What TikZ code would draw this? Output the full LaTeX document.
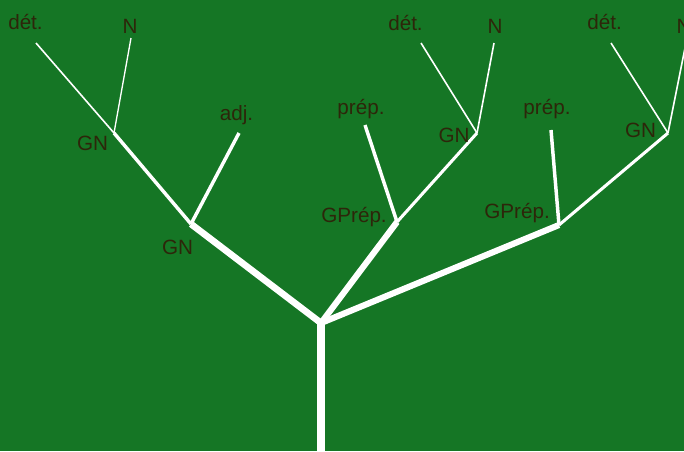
\documentclass[tikz,border=0pt]{standalone}
\usepackage{fontspec}
\setmainfont{Liberation Sans}
\definecolor{leaf}{RGB}{21,118,37}
\definecolor{ink}{RGB}{45,38,10}
\begin{document}
\begin{tikzpicture}[x=0.75pt,y=-0.75pt,
  lbl/.style={text=ink, font=\fontsize{15.5}{18}\selectfont, inner sep=0pt, anchor=base},
  br/.style={draw=white, line width=#1}]
\fill[leaf] (0,0) rectangle (684,451);
\useasboundingbox (0,0) rectangle (684,451);

% junctions and branch tips
\coordinate (base) at (321,451);
\coordinate (root) at (321,323);
\coordinate (gnA) at (191,224);
\coordinate (gnB) at (114,133);
\coordinate (adjT) at (239,133);
\coordinate (detA) at (36,43);
\coordinate (nA) at (131,38);
\coordinate (gpA) at (397,222);
\coordinate (prepA) at (365,125);
\coordinate (gnC) at (477,133);
\coordinate (detB) at (421,43);
\coordinate (nB) at (494,43);
\coordinate (gpB) at (559,225);
\coordinate (prepB) at (551,130);
\coordinate (gnD) at (668,133);
\coordinate (detC) at (611,43);
\coordinate (nC) at (686,43);

% trunk and main limbs
\draw[br=6pt] (base) -- (root);
\draw[br=5pt] (root) -- (gnA);
\draw[br=4.6pt] (root) -- (gpA);
\draw[br=4.6pt] (root) -- (gpB);

% secondary branches
\draw[br=2.6pt] (gnA) -- (gnB);
\draw[br=2.6pt] (gnA) -- (adjT);
\draw[br=2.6pt] (gpA) -- (prepA);
\draw[br=2.3pt] (gpA) -- (gnC);
\draw[br=2.6pt] (gpB) -- (prepB);
\draw[br=2.3pt] (gpB) -- (gnD);

% twigs
\draw[br=1.2pt] (gnB) -- (detA);
\draw[br=1pt] (gnB) -- (nA);
\draw[br=1.2pt] (gnC) -- (detB);
\draw[br=1.2pt] (gnC) -- (nB);
\draw[br=1.2pt] (gnD) -- (detC);
\draw[br=1.2pt] (gnD) -- (nC);

% labels
\node[lbl] (lDetA) at (25.5,29) {dét.};
\node[lbl] (lNA) at (130,33) {N};
\node[lbl] (lGnB) at (92.5,150) {GN};
\node[lbl] (lAdj) at (236.5,120) {adj.};
\node[lbl] (lGnA) at (177.5,254) {GN};
\node[lbl] (lPrepA) at (361,114) {prép.};
\node[lbl] (lGpA) at (354,222) {GPrép.};
\node[lbl] (lDetB) at (405.5,30) {dét.};
\node[lbl] (lNB) at (495,33) {N};
\node[lbl] (lGnC) at (454,142) {GN};
\node[lbl] (lPrepB) at (547,114) {prép.};
\node[lbl] (lGpB) at (517,218) {GPrép.};
\node[lbl] (lDetC) at (604.5,29) {dét.};
\node[lbl] (lNC) at (684,33) {N};
\node[lbl] (lGnD) at (640.5,137) {GN};
\end{tikzpicture}
\end{document}
